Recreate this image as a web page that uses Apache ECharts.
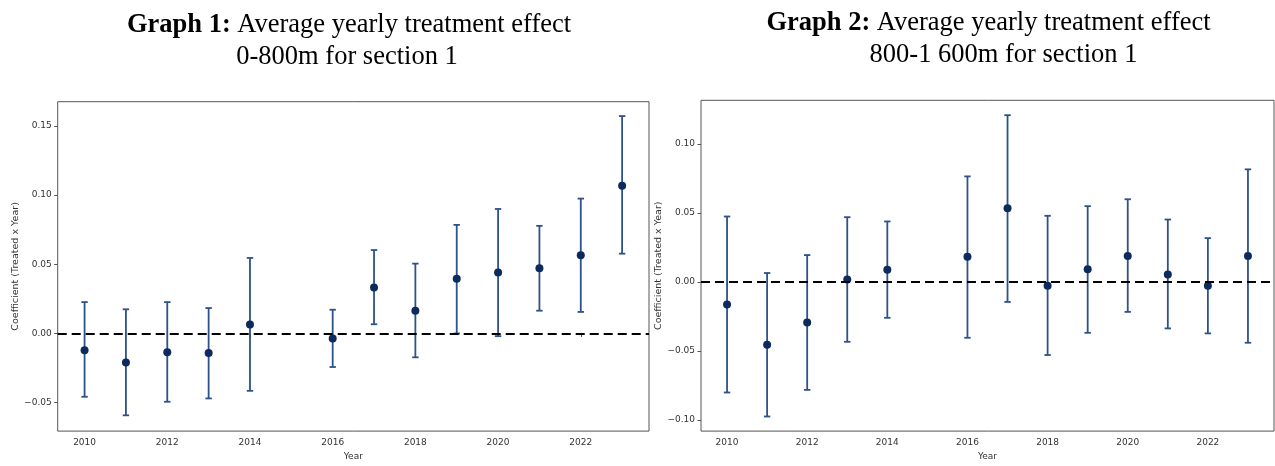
<!DOCTYPE html>
<html>
<head>
<meta charset="utf-8">
<script src="https://cdn.jsdelivr.net/npm/echarts@6/dist/echarts.min.js"></script>
<style>
  html, body { margin: 0; padding: 0; background: #fff; }
  #chart { width: 1275px; height: 466px; }
</style>
</head>
<body>
<div id="chart"></div>
<script>
// years with estimates (no 2015 in either graph)
var years = [2010, 2011, 2012, 2013, 2014, 2016, 2017, 2018, 2019, 2020, 2021, 2022, 2023];
var xTicks = [2010, 2012, 2014, 2016, 2018, 2020, 2022];

// Graph 1: 0-800m
var coef1  = [-0.012, -0.021, -0.0136, -0.0141, 0.0065, -0.0036, 0.0333, 0.0165, 0.0395, 0.0441, 0.0472, 0.0565, 0.1068];
var lower1 = [-0.0457, -0.0591, -0.0493, -0.0469, -0.0414, -0.0242, 0.0067, -0.0172, 0.0, -0.0019, 0.0165, 0.0156, 0.0577];
var upper1 = [0.0227, 0.0175, 0.0227, 0.0184, 0.0546, 0.0172, 0.0603, 0.0505, 0.0785, 0.090, 0.0778, 0.0975, 0.1571];
var yTicks1 = [-0.05, 0, 0.05, 0.10, 0.15];

// Graph 2: 800-1 600m
var coef2  = [-0.0164, -0.0455, -0.0294, 0.0017, 0.0089, 0.0183, 0.0535, -0.0027, 0.0092, 0.0188, 0.0055, -0.0027, 0.0188];
var lower2 = [-0.0802, -0.0976, -0.0783, -0.0434, -0.026, -0.0405, -0.0145, -0.053, -0.0369, -0.0217, -0.0337, -0.0373, -0.0441];
var upper2 = [0.0475, 0.0065, 0.0195, 0.047, 0.0439, 0.0766, 0.121, 0.048, 0.055, 0.060, 0.0453, 0.0318, 0.0817];
var yTicks2 = [-0.10, -0.05, 0, 0.05, 0.10];

var barColor = '#2d5189';
var dotColor = '#0c2a5c';
var tickFont = { fontFamily: 'DejaVu Sans', fontSize: 9, color: '#333' };

function fmt(v) {
  return (v < 0 ? '\u2212' : '') + Math.abs(v).toFixed(2);
}

function errorBars(params, api) {
  var x = api.value(0);
  var lo = api.coord([x, api.value(1)]);
  var hi = api.coord([x, api.value(2)]);
  var w = 3.2;
  var st = { stroke: barColor, lineWidth: 1.8 };
  return {
    type: 'group',
    children: [
      { type: 'line', shape: { x1: lo[0], y1: lo[1], x2: hi[0], y2: hi[1] }, style: st },
      { type: 'line', shape: { x1: lo[0] - w, y1: lo[1], x2: lo[0] + w, y2: lo[1] }, style: st },
      { type: 'line', shape: { x1: hi[0] - w, y1: hi[1], x2: hi[0] + w, y2: hi[1] }, style: st }
    ]
  };
}

function xAxisFor(idx) {
  return {
    type: 'value', gridIndex: idx, min: 2009.35, max: 2023.65,
    name: 'Year', nameLocation: 'middle', nameGap: 20,
    nameTextStyle: tickFont,
    axisLine: { show: false },
    splitLine: { show: false },
    axisTick: { show: true, length: 3.5, lineStyle: { color: '#555' }, customValues: xTicks },
    axisLabel: Object.assign({ margin: 7, customValues: xTicks, formatter: function (v) { return String(v); } }, tickFont)
  };
}

function yAxisFor(idx, min, max, ticks) {
  return {
    type: 'value', gridIndex: idx, min: min, max: max,
    name: 'Coefficient (Treated x Year)', nameLocation: 'middle', nameGap: 37,
    nameTextStyle: { fontFamily: 'DejaVu Sans', fontSize: 9.5, color: '#333' },
    axisLine: { show: false },
    splitLine: { show: false },
    axisTick: { show: true, length: 3.5, lineStyle: { color: '#555' }, customValues: ticks },
    axisLabel: Object.assign({ margin: 6, customValues: ticks, formatter: fmt }, tickFont)
  };
}

function zeroLine() {
  return {
    silent: true, symbol: 'none', label: { show: false },
    lineStyle: { color: '#000', type: [9, 5], width: 2 },
    data: [{ yAxis: 0 }]
  };
}

function titleLine(text, left, top) {
  return {
    text: text, left: left, top: top, textAlign: 'center', padding: 0,
    textStyle: {
      fontFamily: 'Liberation Serif', fontSize: 26.5, fontWeight: 'normal', color: '#000',
      rich: { b: { fontFamily: 'Liberation Serif', fontSize: 26.5, fontWeight: 'bold', color: '#000' } }
    }
  };
}

var chart = echarts.init(document.getElementById('chart'));
chart.setOption({
  animation: false,
  backgroundColor: '#fff',
  title: [
    titleLine('{b|Graph 1:} Average yearly treatment effect', 349, 11.5),
    titleLine('0-800m for section 1', 347, 44),
    titleLine('{b|Graph 2:} Average yearly treatment effect', 988.5, 10),
    titleLine('800-1 600m for section 1', 1003.5, 42)
  ],
  grid: [
    { left: 57.7, right: 626, top: 101.7, bottom: 34.3, show: true, borderColor: '#555', borderWidth: 1 },
    { left: 701, right: 1, top: 100.3, bottom: 33.7, show: true, borderColor: '#555', borderWidth: 1 }
  ],
  xAxis: [xAxisFor(0), xAxisFor(1)],
  yAxis: [
    yAxisFor(0, -0.0705, 0.1675, yTicks1),
    yAxisFor(1, -0.1082, 0.1318, yTicks2)
  ],
  series: [
    {
      type: 'custom', xAxisIndex: 0, yAxisIndex: 0, renderItem: errorBars,
      encode: { x: 0, y: [1, 2] },
      data: years.map(function (y, i) { return [y, lower1[i], upper1[i]]; }),
      markLine: zeroLine(), z: 2
    },
    {
      type: 'scatter', xAxisIndex: 0, yAxisIndex: 0, symbolSize: 8,
      itemStyle: { color: dotColor, opacity: 1 }, z: 3,
      data: years.map(function (y, i) { return [y, coef1[i]]; })
    },
    {
      type: 'custom', xAxisIndex: 1, yAxisIndex: 1, renderItem: errorBars,
      encode: { x: 0, y: [1, 2] },
      data: years.map(function (y, i) { return [y, lower2[i], upper2[i]]; }),
      markLine: zeroLine(), z: 2
    },
    {
      type: 'scatter', xAxisIndex: 1, yAxisIndex: 1, symbolSize: 8,
      itemStyle: { color: dotColor, opacity: 1 }, z: 3,
      data: years.map(function (y, i) { return [y, coef2[i]]; })
    }
  ]
});
</script>
</body>
</html>
